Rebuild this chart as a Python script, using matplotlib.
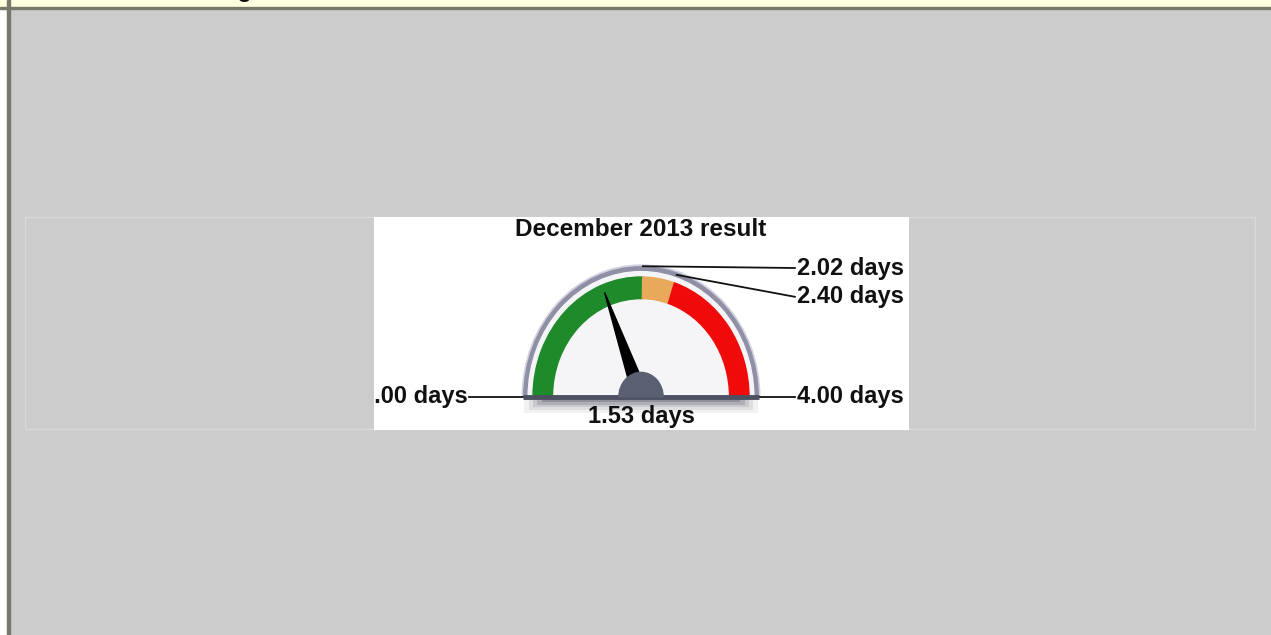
"""Gauge panel: December 2013 result (days)."""
import numpy as np
import matplotlib
matplotlib.use("Agg")
import matplotlib.pyplot as plt
from matplotlib.patches import Wedge, Rectangle, Polygon

plt.rcParams["font.family"] = ["Liberation Sans", "DejaVu Sans"]

# data
title = "December 2013 result"
panel_title = "Performance Gauge"
unit = "days"
gauge_min = 0.00
gauge_max = 4.00
band_edges = [0.00, 2.02, 2.40, 4.00]
band_colors = ["#1f8a2a", "#e8a95a", "#f00a0a"]
value = 1.53

INK = "#111111"
BG = "#cccccc"


def ang(v):
    # 0 at left, max at right, sweep over the top
    return 180.0 - (v - gauge_min) / (gauge_max - gauge_min) * 180.0


def pt(v, r):
    a = np.radians(ang(v))
    return r * np.cos(a), r * np.sin(a)


fig = plt.figure(figsize=(12.71, 6.35), dpi=100, facecolor=BG)

# page background in pixel coords
bg = fig.add_axes([0, 0, 1, 1])
bg.set_xlim(0, 1271)
bg.set_ylim(635, 0)
bg.axis("off")
bg.add_patch(Rectangle((0, 0), 8, 635, color="white", zorder=1))
strip = Rectangle((0, 0), 1271, 7, color="#ffffe0", zorder=1)
bg.add_patch(strip)
bg.add_patch(Rectangle((0, 7), 1271, 2, color="#77786a", zorder=2))
bg.add_patch(Rectangle((7, 0), 2.5, 635, color="#77786a", zorder=2))
bg.add_patch(Rectangle((25, 217), 1230, 212, facecolor="none",
                       edgecolor="#d9d9d9", linewidth=1, zorder=1))
# panel heading sits above the visible area, only its feet show
t = bg.text(40, -3.5, panel_title, fontsize=17, weight="bold", color=INK,
            va="baseline", ha="left", zorder=3)
t.set_clip_path(strip)

# gauge box: unit circle stretched, 108 px wide, 120 px tall per unit
cx, cy, ux, uy = 641, 397, 108, 120
x0, x1, ytop, ybot = 374, 909, 217, 430
ax = fig.add_axes([x0 / 1271, (635 - ybot) / 635, (x1 - x0) / 1271, (ybot - ytop) / 635])
ax.set_xlim((x0 - cx) / ux, (x1 - cx) / ux)
ax.set_ylim((cy - ybot) / uy, (cy - ytop) / uy)
ax.set_facecolor("white")
for s in ax.spines.values():
    s.set_visible(False)
ax.set_xticks([])
ax.set_yticks([])

# soft shadow under the base
for i, al in enumerate([0.06, 0.09, 0.12, 0.16, 0.22]):
    w = 1.08 - i * 0.04
    h = 0.13 - i * 0.022
    ax.add_patch(Rectangle((-w, -h), 2 * w, h, color="#2a2a40", alpha=al,
                           linewidth=0, zorder=1))
# rim + face
ax.add_patch(Wedge((0, 0), 1.1, 0, 180, color="#d2d2e0", zorder=2))
ax.add_patch(Wedge((0, 0), 1.085, 0, 180, color="#8f8fa6", width=0.04, zorder=3))
ax.add_patch(Wedge((0, 0), 1.045, 0, 180, color="#f5f5f8", zorder=3))

# coloured bands
for lo, hi, c in zip(band_edges[:-1], band_edges[1:], band_colors):
    ax.add_patch(Wedge((0, 0), 1.0, ang(hi), ang(lo), width=0.18, color=c, zorder=4))

# base bar
ax.plot([-1.09, 1.09], [0.0, 0.0], color="#4d5060", linewidth=3.5,
        solid_capstyle="butt", zorder=6)

# needle
a = np.radians(ang(value))
tip = np.array([0.935 * np.cos(a), 0.935 * np.sin(a)])
perp = np.array([-np.sin(a), np.cos(a)]) * 0.065
base = np.array([0.08 * np.cos(a), 0.08 * np.sin(a)])
ax.add_patch(Polygon([base + perp, tip, base - perp], closed=True, color="black", zorder=7))

# hub
ax.add_patch(Wedge((0, 0), 0.205, 0, 180, color="#5b5f72", zorder=8))

# threshold leaders and labels
lab_x = 1.445
fs = 17
for v, ly, r in [(band_edges[1], 1.075, 1.09), (band_edges[2], 0.835, 1.07)]:
    px, py = pt(v, r)
    ax.plot([px, lab_x - 0.02], [py, ly], color=INK, linewidth=1.3, zorder=9)
    ax.text(lab_x, ly, f"{v:.2f} {unit}", fontsize=fs, weight="bold",
            color=INK, ha="left", va="center", zorder=9)

# min / max leaders
ax.plot([-1.59, -1.09], [0, 0], color=INK, linewidth=1.3, zorder=5)
ax.text(-1.6, 0.0, f"{gauge_min:.2f} {unit}", fontsize=fs, weight="bold",
        color=INK, ha="right", va="center", clip_on=True, zorder=9)
ax.plot([1.09, 1.425], [0, 0], color=INK, linewidth=1.3, zorder=5)
ax.text(lab_x, 0.0, f"{gauge_max:.2f} {unit}", fontsize=fs, weight="bold",
        color=INK, ha="left", va="center", zorder=9)

# value and title
ax.text(0, -0.165, f"{value:.2f} {unit}", fontsize=fs, weight="bold",
        color=INK, ha="center", va="center", zorder=9)
ax.text(0, 1.4, title, fontsize=17.5, weight="bold", color=INK,
        ha="center", va="center", zorder=9)

fig.savefig("out.png", dpi=100, facecolor=BG)
